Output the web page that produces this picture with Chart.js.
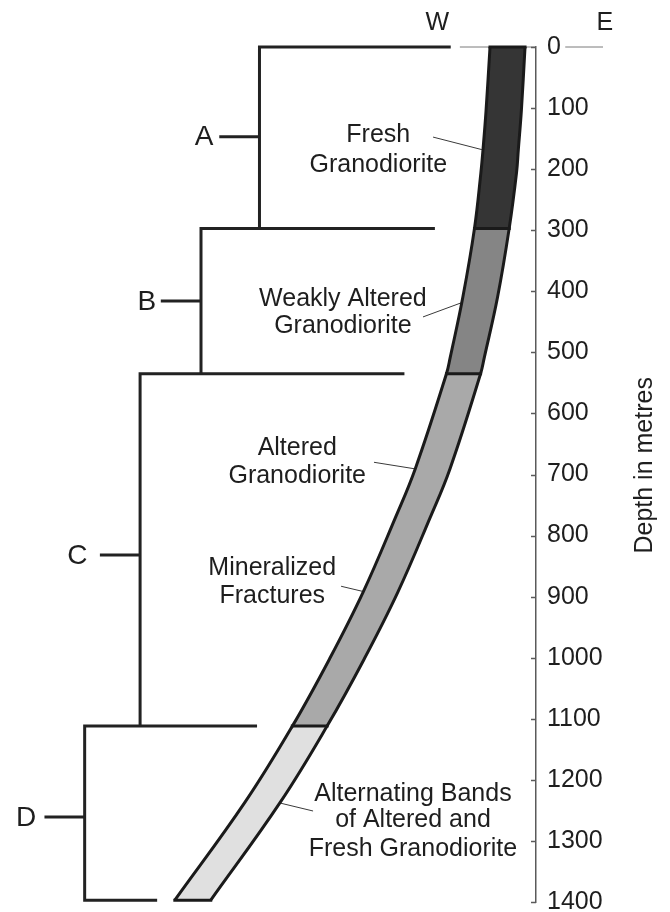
<!DOCTYPE html>
<html>
<head>
<meta charset="utf-8">
<script src="https://cdn.jsdelivr.net/npm/chart.js@4.4.1/dist/chart.umd.min.js"></script>
<style>
  html, body { margin: 0; padding: 0; background: #ffffff; }
  canvas { display: block; }
</style>
</head>
<body>
<canvas id="c" width="670" height="912"></canvas>
<script>
// ---------------- DATA ----------------
// Borehole trace: depth (m) vs. horizontal offset (m, negative = west) of the two walls
const depths   = [0, 104, 168, 206, 297, 409, 509, 535, 690, 771, 893, 1002, 1112, 1237, 1397];
const westEdge = [-75.5, -82, -87, -90.5, -101, -120, -141, -147, -198, -231, -284, -339, -400, -478, -593];
const eastEdge = [-18, -24, -29, -32, -44, -63, -85, -91, -141, -174, -227, -282, -343, -420, -534];

// Alteration zones
const zoneNames  = ['A', 'B', 'C', 'D'];
const zoneTop    = [0, 297, 535, 1112];
const zoneBottom = [297, 535, 1112, 1397];

// Depth axis
const depthTicks      = [0, 100, 200, 300, 400, 500, 600, 700, 800, 900, 1000, 1100, 1200, 1300, 1400];
const depthTickLabels = ['0', '100', '200', '300', '400', '500', '600', '700', '800', '900', '1000', '1100', '1200', '1300', '1400'];

// Texts
const annotationTexts = [
  ['Fresh', 'Granodiorite'],
  ['Weakly Altered', 'Granodiorite'],
  ['Altered', 'Granodiorite'],
  ['Mineralized', 'Fractures'],
  ['Alternating Bands', 'of Altered and', 'Fresh Granodiorite']
];
const axisTitle = 'Depth in metres';
const compassLabels = ['W', 'E'];

// ---------------- LAYOUT / STYLE ----------------
const FONT = "'Liberation Sans', Arial, Helvetica, sans-serif";
const TEXT = '#1e1e1e';
const INK = '#222222';
const zoneColors = ['#353535', '#858585', '#a9a9a9', '#e0e0e0'];

const bracketLayout = [   // vertical-line x, right end of top line, tick left end, tick depth, letter x
  { vx: -454, topEnd: -140, tickFrom: -520, tickD: 147,  letterX: -545 },
  { vx: -550, topEnd: -166, tickFrom: -616, tickD: 416,  letterX: -639 },
  { vx: -650, topEnd: -216, tickFrom: -716, tickD: 832,  letterX: -753 },
  { vx: -741, topEnd: -458, tickFrom: -807, tickD: 1261, letterX: -837 }
];
const bottomLineEnd = -622;
const textLayout = [
  { x: -259, ys: [156, 204] },
  { x: -317, ys: [424, 469] },
  { x: -392, ys: [668, 714] },
  { x: -433, ys: [865, 911] },
  { x: -202, ys: [1235, 1277, 1324] }
];
const leaderLayout = [
  [[-169, 147.5], [-89, 168]],
  [[-185.5, 442], [-123, 419]],
  [[-266, 680], [-197, 691]],
  [[-320, 883], [-282, 892]],
  [[-366, 1251], [-420, 1238]]
];

// ---------------- BUILD DATASETS ----------------
function zoneShape(i) {
  const a = depths.indexOf(zoneTop[i]), b = depths.indexOf(zoneBottom[i]);
  const pts = [];
  for (let k = a; k <= b; k++) pts.push({ x: westEdge[k], y: depths[k] });
  for (let k = b; k >= a; k--) pts.push({ x: eastEdge[k], y: depths[k] });
  pts.push({ x: westEdge[a], y: depths[a] });
  return pts;
}

const base = { pointRadius: 0, tension: 0, clip: false, fill: false, borderJoinStyle: 'miter', borderCapStyle: 'butt' };
const datasets = [];
const OUTLINE = '#1a1a1a';

// zone boundaries (caps across the hole) - drawn on top
[0].concat(zoneBottom).forEach(d => {
  const k = depths.indexOf(d);
  datasets.push(Object.assign({}, base, {
    label: 'boundary ' + d,
    data: [{ x: westEdge[k], y: d }, { x: eastEdge[k], y: d }],
    borderColor: OUTLINE, borderWidth: 3, borderCapStyle: 'square'
  }));
});

// hole walls (smooth)
datasets.push(Object.assign({}, base, {
  label: 'west wall', data: depths.map((d, k) => ({ x: westEdge[k], y: d })),
  borderColor: OUTLINE, borderWidth: 3, tension: 0.4
}));
datasets.push(Object.assign({}, base, {
  label: 'east wall', data: depths.map((d, k) => ({ x: eastEdge[k], y: d })),
  borderColor: OUTLINE, borderWidth: 3, tension: 0.4
}));

// zone fills
zoneNames.forEach((n, i) => {
  datasets.push(Object.assign({}, base, {
    label: 'Zone ' + n,
    data: zoneShape(i),
    fill: 'shape',
    backgroundColor: zoneColors[i],
    borderColor: zoneColors[i],
    borderWidth: 1
  }));
});

// brackets
zoneNames.forEach((n, i) => {
  const L = bracketLayout[i];
  const pts = [{ x: L.topEnd, y: zoneTop[i] }, { x: L.vx, y: zoneTop[i] }, { x: L.vx, y: zoneBottom[i] }];
  if (i === zoneNames.length - 1) pts.push({ x: bottomLineEnd, y: zoneBottom[i] });
  datasets.push(Object.assign({}, base, { label: 'bracket ' + n, data: pts, borderColor: INK, borderWidth: 3 }));
  datasets.push(Object.assign({}, base, {
    label: 'tick ' + n,
    data: [{ x: L.vx, y: L.tickD }, { x: L.tickFrom, y: L.tickD }],
    borderColor: INK, borderWidth: 3
  }));
});

// leader lines
leaderLayout.forEach((seg, i) => {
  datasets.push(Object.assign({}, base, {
    label: 'leader ' + i,
    data: seg.map(p => ({ x: p[0], y: p[1] })),
    borderColor: '#3a3a3a', borderWidth: 1
  }));
});

// ground surface line
datasets.push(Object.assign({}, base, { label: 'surface W', data: [{ x: 0, y: 0 }, { x: -125, y: 0 }], borderColor: '#7a7a7a', borderWidth: 1 }));
datasets.push(Object.assign({}, base, { label: 'surface E', data: [{ x: 110, y: 0 }, { x: 48, y: 0 }], borderColor: '#7a7a7a', borderWidth: 1 }));

// ---------------- ANNOTATION PLUGIN ----------------
const annot = {
  id: 'annot',
  afterDatasetsDraw(chart) {
    const { ctx, chartArea } = chart;
    const xs = chart.scales.x, ys = chart.scales.y;
    ctx.save();
    // inward depth ticks
    ctx.strokeStyle = '#5a5a5a';
    ctx.lineWidth = 1.5;
    depthTicks.forEach(d => {
      const py = Math.round(ys.getPixelForValue(d)) + 0.5;
      ctx.beginPath();
      ctx.moveTo(chartArea.right - 5, py);
      ctx.lineTo(chartArea.right, py);
      ctx.stroke();
    });
    // lithology labels
    ctx.fillStyle = TEXT;
    ctx.textAlign = 'center';
    ctx.textBaseline = 'alphabetic';
    ctx.font = '25px ' + FONT;
    annotationTexts.forEach((lines, i) => {
      const t = textLayout[i];
      lines.forEach((s, j) => ctx.fillText(s, xs.getPixelForValue(t.x), ys.getPixelForValue(t.ys[j])));
    });
    // compass
    ctx.fillText(compassLabels[0], xs.getPixelForValue(-162), ys.getPixelForValue(-28));
    ctx.fillText(compassLabels[1], xs.getPixelForValue(113), ys.getPixelForValue(-28));
    // zone letters
    ctx.font = '28px ' + FONT;
    ctx.textBaseline = 'middle';
    zoneNames.forEach((n, i) => {
      const L = bracketLayout[i];
      ctx.fillText(n, xs.getPixelForValue(L.letterX), ys.getPixelForValue(L.tickD) + 1);
    });
    // axis title (reads bottom to top)
    ctx.font = '25px ' + FONT;
    ctx.textBaseline = 'alphabetic';
    ctx.translate(chartArea.right + 116, ys.getPixelForValue(685));
    ctx.rotate(-Math.PI / 2);
    ctx.fillText(axisTitle, 0, 0);
    ctx.restore();
  }
};

// ---------------- CHART ----------------
new Chart(document.getElementById('c'), {
  type: 'line',
  data: { datasets },
  plugins: [annot],
  options: {
    responsive: false,
    devicePixelRatio: 1,
    animation: false,
    events: [],
    layout: { padding: { left: 0, right: 0, top: 47, bottom: 10 } },
    plugins: { legend: { display: false }, tooltip: { enabled: false } },
    scales: {
      x: { type: 'linear', min: -880, max: 0, display: false },
      y: {
        type: 'linear',
        position: 'right',
        reverse: true,
        min: 0,
        max: 1400,
        afterBuildTicks: s => { s.ticks = depthTicks.map(v => ({ value: v })); },
        afterFit: s => { s.width = 134; s.paddingTop = 0; s.paddingBottom = 0; },
        grid: { display: false, drawTicks: false },
        border: { display: true, color: '#5a5a5a', width: 1.5 },
        ticks: {
          padding: 11,
          color: TEXT,
          font: { family: FONT, size: 25 },
          callback: v => { const i = depthTicks.indexOf(v); return i >= 0 ? depthTickLabels[i] : ''; }
        }
      }
    }
  }
});
</script>
</body>
</html>
